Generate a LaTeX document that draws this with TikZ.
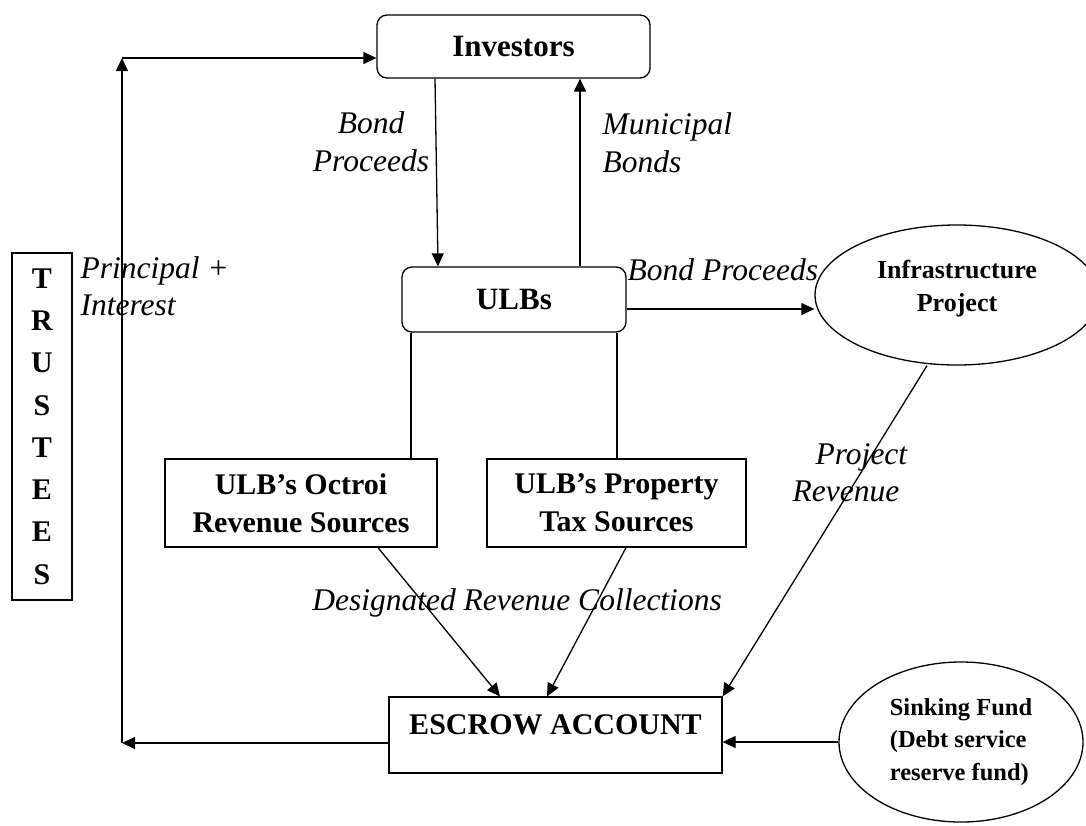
\documentclass[tikz,border=0pt]{standalone}
\usepackage{fontspec}
\setmainfont{Liberation Serif}
\usetikzlibrary{shapes.geometric,arrows.meta}
\begin{document}
\begin{tikzpicture}[x=1pt,y=-1pt,
  line width=1.3pt,
  >={Triangle[length=13pt,width=12pt]},
  box/.style={draw, rectangle, inner sep=0pt, font=\bfseries\fontsize{30}{38}\selectfont},
  rbox/.style={box, rounded corners=10pt, font=\bfseries\fontsize{31}{38}\selectfont},
  lbl/.style={font=\itshape\fontsize{31.5}{37.5}\selectfont, inner sep=0pt},
  oval/.style={draw, ellipse, inner sep=0pt, align=center}]
\clip (0,0) rectangle (1086,825);
\fill[white] (0,0) rectangle (1086,825);

% nodes
\node[rbox, minimum width=273pt, minimum height=63pt] (inv) at (513.5,46.5) {Investors};
\node[rbox, minimum width=224pt, minimum height=65pt] (ulb) at (514,299.5) {ULBs};
\node[box, align=center, minimum width=272pt, minimum height=88pt] (oct) at (301,503) {ULB’s Octroi\\Revenue Sources};
\node[box, align=center, minimum width=259pt, minimum height=88pt] (prop) at (616.5,503) {ULB’s Property\\Tax Sources};
\node[box, minimum width=333pt, text height=37pt, text depth=39pt] (esc) at (555.5,735) {ESCROW ACCOUNT};
\node[box, align=center, minimum width=60pt, minimum height=347pt, font=\bfseries\fontsize{30}{42.3}\selectfont] (tru) at (42,426.5) {T\\R\\U\\S\\T\\E\\E\\S};
\node[oval, minimum width=284pt, minimum height=140pt] (inf) at (957,295) {};
\node[align=center, inner sep=0pt, font=\bfseries\fontsize{26}{33}\selectfont] (inftext) at (957,289) {Infrastructure\\Project};
\node[oval, align=left, minimum width=244pt, minimum height=160pt, font=\bfseries\fontsize{24.5}{32.5}\selectfont] (sink) at (961,742) {Sinking Fund\\(Debt service\\reserve fund)};

% labels
\node[lbl, align=center] (lbp) at (371,141.5) {Bond\\Proceeds};
\node[lbl, align=left, anchor=west] (lmb) at (602,142.5) {Municipal\\Bonds};
\node[lbl, align=left, anchor=west] (lpi) at (80,286) {Principal +\\Interest};
\node[lbl, anchor=west] (lbp2) at (627,270) {Bond Proceeds};
\node[lbl, align=left, anchor=west] (lpr) at (792,472.5) {\hspace*{23pt}Project\\Revenue};
\node[lbl] (ldr) at (517,603) {Designated Revenue Collections};

% helper coordinates
\coordinate (cbl) at (122,743);
\coordinate (ctl) at (122,58);
\coordinate (d1) at (435,0);
\coordinate (d2) at (438,0);
\coordinate (u1) at (580,0);
\coordinate (h1) at (0,309);
\coordinate (v1) at (411,0);
\coordinate (v2) at (617,0);
\coordinate (o1) at (378,0);
\coordinate (o2) at (500,0);
\coordinate (q1) at (626,0);
\coordinate (q2) at (547,0);
\coordinate (p1) at (927,0);

% connectors
\draw[->] (cbl -| esc.west) -- (cbl);
\draw[->] (cbl) -- (ctl);
\draw[->] (ctl) -- (ctl -| inv.west);
\draw[->] (inv.south -| d1) -- (ulb.north -| d2);
\draw[->] (ulb.north -| u1) -- (inv.south -| u1);
\draw[->] (ulb.east |- h1) -- (inf.west |- h1);
\draw (ulb.south -| v1) -- (oct.north -| v1);
\draw (ulb.south -| v2) -- (prop.north -| v2);
\draw[->] (oct.south -| o1) -- (esc.north -| o2);
\draw[->] (prop.south -| q1) -- (esc.north -| q2);
\draw[->] (inf.south -| p1) -- (esc.north east);
\draw[->] (sink.west) -- (sink.west -| esc.east);
\end{tikzpicture}
\end{document}
